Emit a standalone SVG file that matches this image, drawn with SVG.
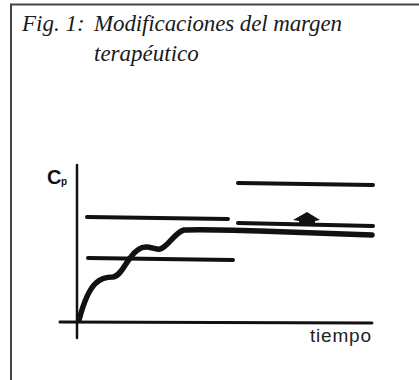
<svg xmlns="http://www.w3.org/2000/svg" width="419" height="380" viewBox="0 0 419 380">
<style>
.frame{fill:none;stroke:#444;stroke-width:2}
.ln{fill:none;stroke:#111;stroke-linecap:round}
.title{font-family:"Liberation Serif",serif;font-style:italic;font-size:23px;fill:#1a1a1a}
.lab{font-family:"Liberation Sans",Arial,sans-serif;font-size:19px;fill:#222}
</style>
<rect width="419" height="380" fill="#fff"/>
<g id="frame"><path class="frame" d="M11,381 V4.5 H420"/></g>
<g id="title">
<text class="title" x="22" y="31">Fig. 1:</text>
<text class="title" x="94" y="31" textLength="248">Modificaciones del margen</text>
<text class="title" x="94" y="61">terapéutico</text>
</g>
<g id="axes">
<path class="ln" d="M77,165 V338" stroke-width="2.5"/>
<path class="ln" d="M60,322 L372,323" stroke-width="3"/>
<text x="47" y="184" font-family="Liberation Sans,Arial,sans-serif" font-weight="bold" font-size="20" fill="#111">C</text>
<text x="61" y="185" font-family="Liberation Sans,Arial,sans-serif" font-weight="bold" font-size="10" fill="#111">p</text>
<text class="lab" x="310" y="342" textLength="61">tiempo</text>
</g>
<g id="lines">
<path class="ln" d="M87,217 L228,219" stroke-width="4"/>
<path class="ln" d="M88,258 L233,260" stroke-width="4"/>
<path class="ln" d="M238,183 L373,185" stroke-width="4"/>
<path class="ln" d="M238,223 L373,226" stroke-width="4"/>
<path id="arrow" d="M293,220 L307,212 L320,220 L315,221 L315,223 L299,223 L299,221 Z" fill="#111"/>
</g>
<g id="curve">
<path class="ln" stroke-width="5.5" d="M79,320 C83,305 88,290 96,283 C101,278 107,277 113,277 C120,276 124,266 130,258 C135,251 140,247 146,247 C152,247 155,250 160,249 C168,247 174,233 184,230 C200,229 230,230 260,231 L372,235"/>
</g>
</svg>
